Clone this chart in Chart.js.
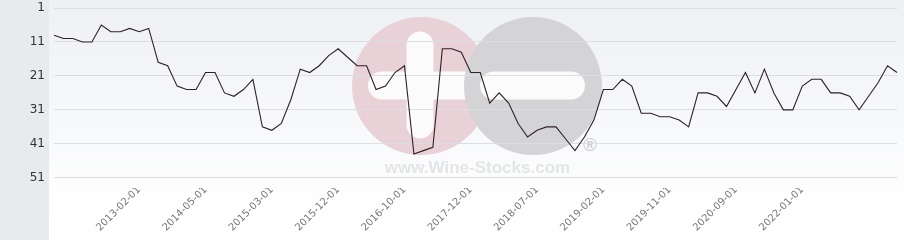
<!DOCTYPE html>
<html>
<head>
<meta charset="utf-8">
<title>Rank history</title>
<script src="https://cdn.jsdelivr.net/npm/chart.js@4.4.0/dist/chart.umd.min.js"></script>
<style>
    html, body { margin: 0; padding: 0; background: #fff; }
    #wrap { width: 904px; height: 240px; }
</style>
</head>
<body>
<div id="wrap"><canvas id="rank-chart" width="904" height="240"></canvas></div>
<script>
// Observation dates (category axis), one per point.
const dates = [
    '2012-05-01', '2012-06-01', '2012-07-01', '2012-08-01', '2012-09-01', '2012-10-01',
    '2012-11-01', '2012-12-01', '2013-01-01', '2013-02-01', '2013-04-01', '2013-06-01',
    '2013-08-01', '2013-10-01', '2013-12-01', '2014-03-01', '2014-05-01', '2014-06-01',
    '2014-08-01', '2014-09-01', '2014-11-01', '2015-01-01', '2015-02-01', '2015-03-01',
    '2015-04-01', '2015-06-01', '2015-07-01', '2015-08-01', '2015-09-01', '2015-11-01',
    '2015-12-01', '2016-01-01', '2016-03-01', '2016-04-01', '2016-05-01', '2016-07-01',
    '2016-09-01', '2016-10-01', '2016-12-01', '2017-02-01', '2017-04-01', '2017-06-01',
    '2017-08-01', '2017-10-01', '2017-12-01', '2018-01-01', '2018-02-01', '2018-03-01',
    '2018-04-01', '2018-05-01', '2018-06-01', '2018-07-01', '2018-08-01', '2018-09-01',
    '2018-10-01', '2018-11-01', '2018-12-01', '2019-01-01', '2019-02-01', '2019-03-01',
    '2019-05-01', '2019-06-01', '2019-07-01', '2019-08-01', '2019-10-01', '2019-11-01',
    '2020-01-01', '2020-02-01', '2020-03-01', '2020-05-01', '2020-06-01', '2020-08-01',
    '2020-09-01', '2020-11-01', '2021-01-01', '2021-03-01', '2021-05-01', '2021-08-01',
    '2021-10-01', '2022-01-01', '2022-03-01', '2022-05-01', '2022-07-01', '2022-09-01',
    '2022-11-01', '2023-01-01', '2023-03-01', '2023-05-01', '2023-07-01', '2023-09-01'
];

// Rank at each date (1 = best, axis is reversed).
const ranks = [
    9, 10, 10, 11, 11, 6, 8, 8, 7, 8,
    7, 17, 18, 24, 25, 25, 20, 20, 26, 27,
    25, 22, 36, 37, 35, 28, 19, 20, 18, 15,
    13, 15.5, 18, 18, 25, 24, 20, 18, 44, 43,
    42, 13, 13, 14, 20, 20, 29, 26, 29, 35,
    39, 37, 36, 36, 39.5, 43, 39, 34, 25, 25,
    22, 24, 32, 32, 33, 33, 34, 36, 26, 26,
    27, 30, 25, 20, 26, 19, 26, 31, 31, 24,
    22, 22, 26, 26, 27, 31, 27, 23, 18, 20
];

// Only these dates get a label on the x axis.
const shownDates = [
    '2013-02-01', '2014-05-01', '2015-03-01', '2015-12-01', '2016-10-01', '2017-12-01',
    '2018-07-01', '2019-02-01', '2019-11-01', '2020-09-01', '2022-01-01'
];

// Rank ticks on the y axis.
const rankTicks = [1, 11, 21, 31, 41, 51];

document.addEventListener('DOMContentLoaded', function() {
    Chart.defaults.font.family = '"DejaVu Sans", sans-serif';
    initializeRankChart();
});

// Draws a filled circle.
function circle(ctx, x, y, r) {
    ctx.beginPath();
    ctx.arc(x, y, r, 0, Math.PI * 2);
    ctx.fill();
}

// Draws a filled pill (rectangle with fully rounded ends), any orientation.
function pill(ctx, x, y, w, h) {
    const r = Math.min(w, h) / 2;
    ctx.beginPath();
    ctx.moveTo(x + r, y);
    ctx.arcTo(x + w, y, x + w, y + h, r);
    ctx.arcTo(x + w, y + h, x, y + h, r);
    ctx.arcTo(x, y + h, x, y, r);
    ctx.arcTo(x, y, x + w, y, r);
    ctx.closePath();
    ctx.fill();
}

// Site watermark behind the plot.
function drawWatermark(ctx) {
    ctx.fillStyle = '#e9d1d8';
    circle(ctx, 421, 86, 69);
    ctx.fillStyle = '#fbfbfc';
    pill(ctx, 406.5, 31.5, 27, 107);
    pill(ctx, 368, 71.5, 110, 28);

    ctx.fillStyle = '#d4d4d7';
    circle(ctx, 533, 86, 69);
    ctx.fillStyle = '#fbfbfc';
    pill(ctx, 480, 71.5, 105, 28);

    ctx.fillStyle = '#e4e5e8';
    ctx.font = 'bold 17px "Liberation Sans", Arial, sans-serif';
    ctx.textAlign = 'center';
    ctx.textBaseline = 'alphabetic';
    ctx.fillText('www.Wine-Stocks.com', 477.5, 173);

    ctx.fillStyle = '#d0d0d3';
    ctx.font = 'bold 19px "Liberation Sans", Arial, sans-serif';
    ctx.textBaseline = 'middle';
    ctx.fillText('\u00AE', 590, 146);
}

// Background gradient, grey label strip and watermark.
const backdropPlugin = {
    id: 'backdrop',
    beforeDraw(chart) {
        const ctx = chart.ctx;
        ctx.save();
        const grad = ctx.createLinearGradient(0, 0, 0, 215);
        grad.addColorStop(0, '#eef0f4');
        grad.addColorStop(1, '#ffffff');
        ctx.fillStyle = grad;
        ctx.fillRect(49, 0, chart.width - 49, chart.height);

        ctx.fillStyle = '#e8ebee';
        ctx.fillRect(0, 0, 49, chart.height);

        drawWatermark(ctx);
        ctx.restore();
    }
};

// Builds the rank line chart.
function initializeRankChart() {
    const ctx = document.getElementById('rank-chart');
    if (!ctx) return;

    window.rankChart = new Chart(ctx, {
        type: 'line',
        data: {
            labels: dates,
            datasets: [{
                label: 'Rank',
                data: ranks,
                borderColor: '#2e2026',
                borderWidth: 1.1,
                pointRadius: 0,
                tension: 0,
                fill: false
            }]
        },
        options: {
            responsive: false,
            animation: false,
            layout: { padding: { top: 8, right: 7, left: 0, bottom: 0 } },
            plugins: {
                legend: { display: false },
                tooltip: { enabled: false }
            },
            scales: {
                x: {
                    grid: { display: false },
                    border: { display: false },
                    ticks: {
                        autoSkip: false,
                        minRotation: 45,
                        maxRotation: 45,
                        padding: -12,
                        color: '#777',
                        font: { size: 10 },
                        callback: function(value, index) {
                            const d = dates[index];
                            return shownDates.includes(d) ? d : '';
                        }
                    },
                    afterFit: function(scale) {
                        scale.height = 52;
                        scale.paddingLeft = 0;
                        scale.paddingRight = 0;
                    }
                },
                y: {
                    reverse: true,
                    min: 1,
                    max: 54,
                    grid: { color: '#dcdee3', drawTicks: false },
                    border: { display: false },
                    ticks: {
                        padding: 9,
                        color: '#333',
                        font: { size: 12 }
                    },
                    afterBuildTicks: function(scale) {
                        scale.ticks = rankTicks.map(v => ({ value: v }));
                    },
                    afterFit: function(scale) {
                        scale.width = 54;
                        scale.paddingTop = 0;
                        scale.paddingBottom = 0;
                    }
                }
            }
        },
        plugins: [backdropPlugin]
    });
}
</script>
</body>
</html>
